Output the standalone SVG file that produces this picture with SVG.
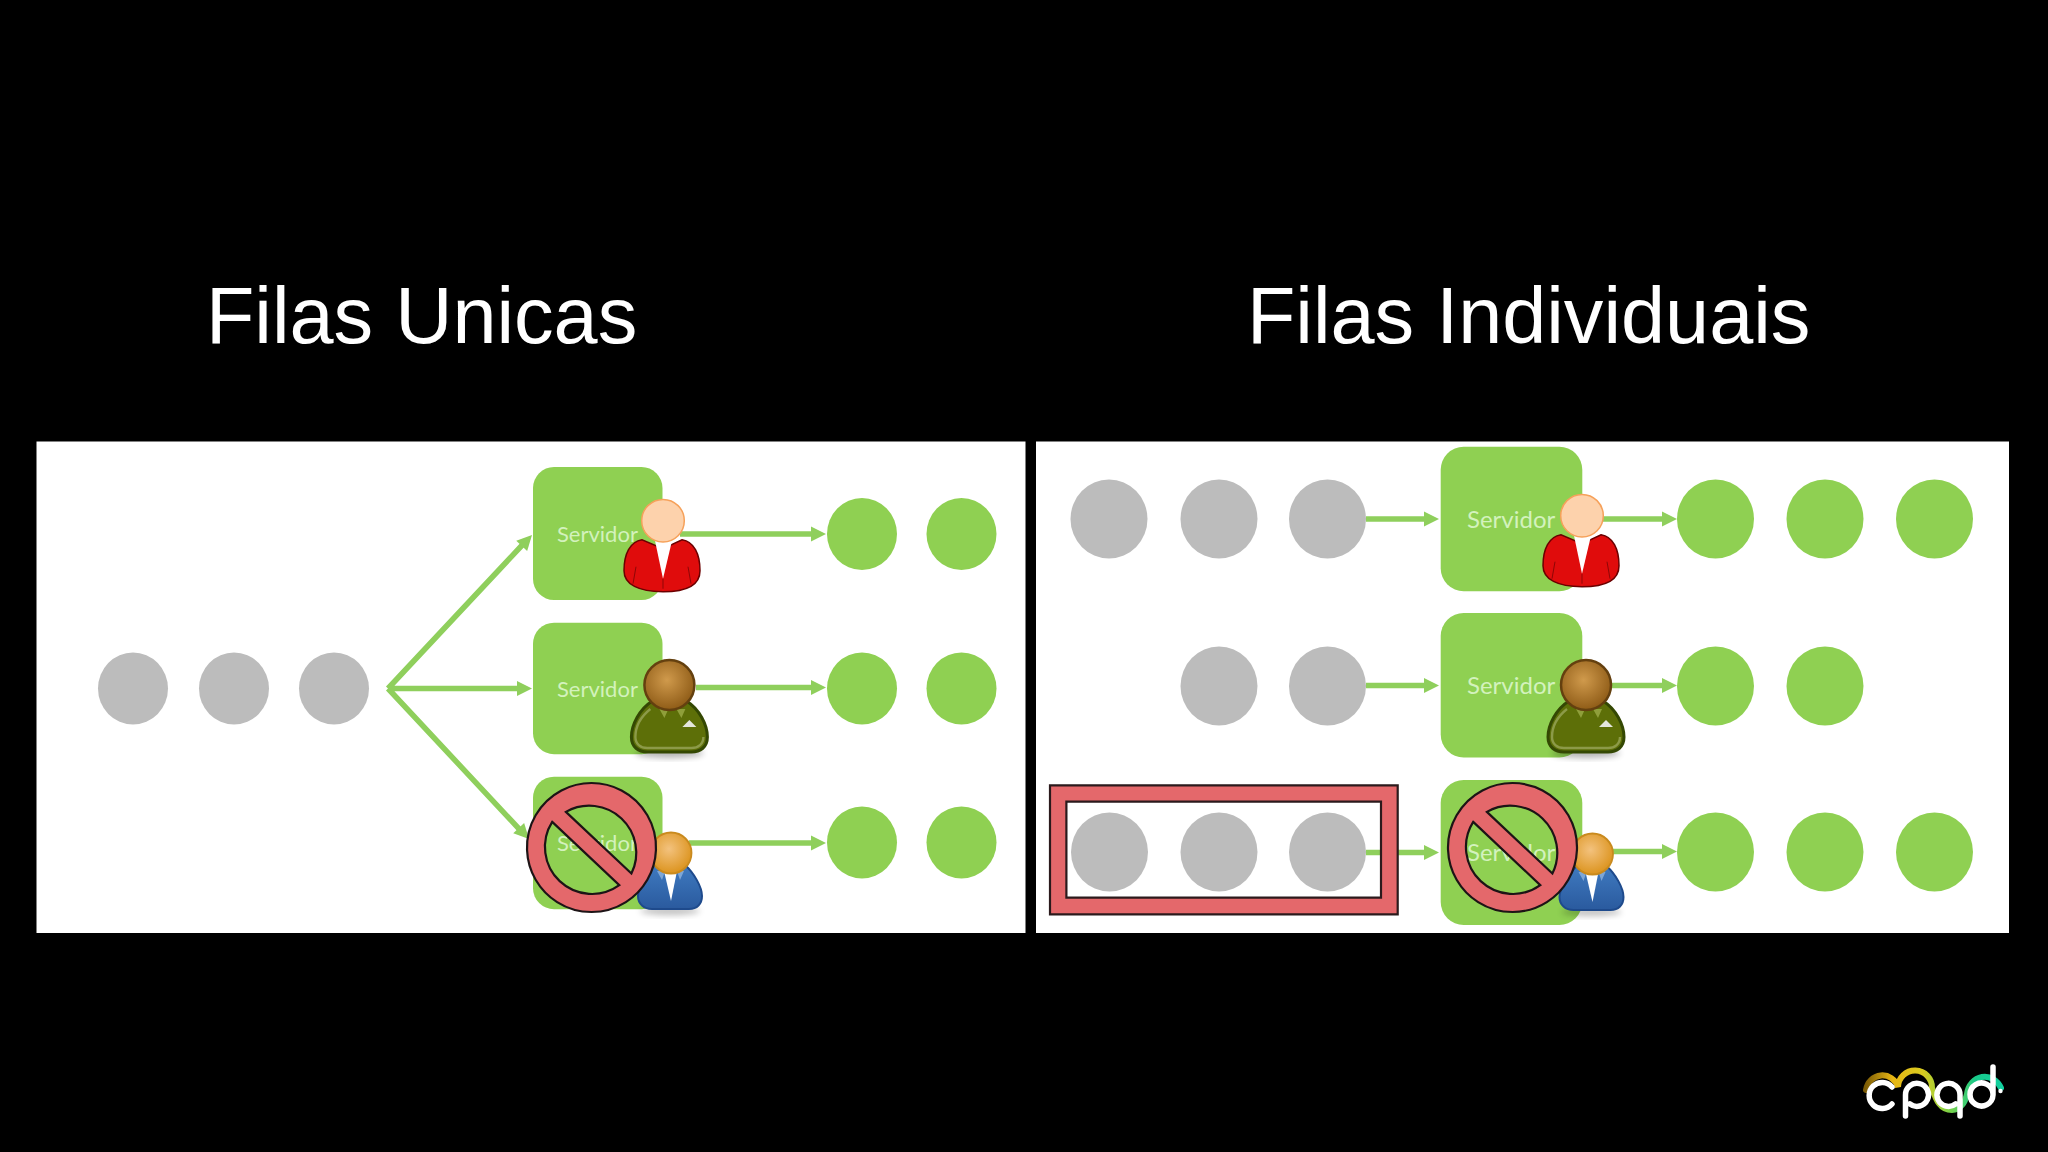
<svg xmlns="http://www.w3.org/2000/svg" xmlns:xlink="http://www.w3.org/1999/xlink" width="2048" height="1152" viewBox="0 0 2048 1152">
<style>
.title{font-family:"Liberation Sans",Arial,sans-serif;font-size:79.2px;fill:#fff}
.panel{fill:#fff}
.srv{fill:#8fd052}
.lbl{font-family:Lato,"Open Sans",sans-serif;font-size:22px;fill:#d3f2bd}
.lbl2{font-size:24px}
.gy{fill:#bcbcbc}
.gn{fill:#8fd052}
.cn{stroke:#8fcf5c;stroke-width:5.5;fill:none}
.ah{fill:#8fcf5c}
</style>
<defs>
<path id="hd" d="M0 0l-15-7.5v15z"/>
<path id="ban" fill-rule="evenodd" d="M0-64.5A64.5 64.5 0 1 1-.01-64.5ZM-25.6-35.6A47 47 0 0 1 39.9 26ZM-39.3-25.6L27.8 37.7A47 47 0 0 1-39.3-25.6Z"/>
<g id="pRed">
<path d="M-21 19C-33 21-39 33-39 50C-39 64-24 71 0 71C24 71 37 64 37 50C37 33 31 21 19 19L0 28Z" fill="#e00c0c" stroke="#6b0000" stroke-width="1.5"/>
<path d="M-8 20H9L0 58Z" fill="#fff"/>
<path d="M-27 46L-30 63M25 46L28 63M0 58V68" stroke="#8f0606" stroke-width="1" fill="none"/>
<circle r="21.3" fill="#fdd2ac" stroke="#f6a15a" stroke-width="1.5"/>
</g>
<radialGradient id="gBrown" cx=".45" cy=".4" r=".6"><stop offset="0" stop-color="#d09a4c"/><stop offset="1" stop-color="#8f5c17"/></radialGradient>
<radialGradient id="gOrange" cx=".45" cy=".4" r=".6"><stop offset="0" stop-color="#f3c27e"/><stop offset="1" stop-color="#dc941f"/></radialGradient>
<linearGradient id="gBlue" x1="0" y1="0" x2="0" y2="1"><stop offset="0" stop-color="#3f7ac0"/><stop offset="1" stop-color="#2a5a9e"/></linearGradient>
<filter id="sh" x="-20%" y="-20%" width="140%" height="160%"><feGaussianBlur stdDeviation="3"/></filter>
<g id="pGreen">
<ellipse cx="0" cy="68" rx="34" ry="5" fill="#000" opacity=".3" filter="url(#sh)"/>
<path d="M-17 16C-30 24-38 40-38 52C-38 62-31 67-22 67H22C31 67 38 62 38 52C38 40 30 24 17 16Z" fill="#5d6f08" stroke="#344803" stroke-width="3"/>
<path d="M-19 24C-29 32-34 42-34 52C-34 59-29 63-22 63H22C29 63 34 59 34 52" fill="none" stroke="#8c9a48" stroke-width="2.4"/>
<path d="M-10 24L-5 33L-1 24ZM7 24L12 33L16 24Z" fill="#8f9f3a"/>
<path d="M13 42L20 35L27 42Z" fill="#e4e6dc"/>
<circle r="25" fill="url(#gBrown)" stroke="#64400f" stroke-width="2.5"/>
</g>
<g id="pBlue">
<ellipse cx="-1" cy="58" rx="30" ry="4" fill="#000" opacity=".25" filter="url(#sh)"/>
<path d="M-16 12C-24 20-33 34-33 43C-33 51-27 56-19 56H18C26 56 31 51 31 43C31 34 23 20 14 12Z" fill="url(#gBlue)" stroke="#1e4a8c" stroke-width="2"/>
<path d="M-7 18H6L0 48Z" fill="#fff"/>
<path d="M-14 18L-9 27L-6 18ZM6 18L9 27L13 18Z" fill="#7ea6d6"/>
<circle r="20.5" fill="url(#gOrange)" stroke="#c98a1e" stroke-width="1.8"/>
</g>
<linearGradient id="lg" gradientUnits="userSpaceOnUse" x1="1865" y1="0" x2="2003" y2="0"><stop offset="0" stop-color="#7a5a05"/><stop offset=".2" stop-color="#e8b614"/><stop offset=".42" stop-color="#d8cc20"/><stop offset=".62" stop-color="#76d24a"/><stop offset=".8" stop-color="#18c98a"/><stop offset="1" stop-color="#12d0a0"/></linearGradient>
</defs>
<rect width="2048" height="1152" fill="#000"/>
<text class="title" x="206" y="342.5">Filas Unicas</text>
<text class="title" x="1247" y="342.5">Filas Individuais</text>
<rect class="panel" x="36.5" y="441.5" width="989" height="491.5"/>
<rect class="panel" x="1036" y="441.5" width="973" height="491.5"/>

<g id="connectors">
<path class="cn" d="M388 688.5L526 541M388 688.5H520M388 688.5L521 831"/>
<use href="#hd" class="ah" transform="translate(532 535) rotate(-46.6)"/>
<use href="#hd" class="ah" transform="translate(532 688.5)"/>
<use href="#hd" class="ah" transform="translate(529 839) rotate(46.6)"/>
<path class="cn" d="M680 534H815M696 687.5H815M689 843H815"/>
<use href="#hd" class="ah" transform="translate(826 534)"/>
<use href="#hd" class="ah" transform="translate(826 687.5)"/>
<use href="#hd" class="ah" transform="translate(826 843)"/>
<path class="cn" d="M1366 519H1428M1366 685.5H1428M1366 852.5H1428"/>
<use href="#hd" class="ah" transform="translate(1439 519)"/>
<use href="#hd" class="ah" transform="translate(1439 685.5)"/>
<use href="#hd" class="ah" transform="translate(1439 852.5)"/>
<path class="cn" d="M1600 519H1666M1610 685.5H1666M1610 851.5H1666"/>
<use href="#hd" class="ah" transform="translate(1677 519)"/>
<use href="#hd" class="ah" transform="translate(1677 685.5)"/>
<use href="#hd" class="ah" transform="translate(1677 851.5)"/>
</g>

<g id="q-l-1"><ellipse class="gy" cx="133" cy="688.5" rx="35" ry="36"/></g>
<g id="q-l-2"><ellipse class="gy" cx="234" cy="688.5" rx="35" ry="36"/></g>
<g id="q-l-3"><ellipse class="gy" cx="334" cy="688.5" rx="35" ry="36"/></g>

<g id="srv-l-1"><rect class="srv" x="533" y="467" width="129.5" height="133" rx="21"/><text class="lbl" x="557" y="541.5">Servidor</text><use href="#pRed" x="663" y="520.7"/></g>
<g id="srv-l-2"><rect class="srv" x="533" y="622.7" width="129.5" height="131.5" rx="21"/><text class="lbl" x="557" y="697">Servidor</text><use href="#pGreen" x="669.4" y="685"/></g>
<g id="srv-l-3"><rect class="srv" x="533" y="776.7" width="129.5" height="132.5" rx="21"/><text class="lbl" x="557" y="851">Servidor</text><use href="#pBlue" x="671" y="853"/><use href="#ban" x="591.5" y="847.5" fill="#e4686b" stroke="#1d1416" stroke-width="2.2"/></g>

<g id="out-l">
<ellipse class="gn" cx="862" cy="534" rx="35" ry="36"/><ellipse class="gn" cx="961.5" cy="534" rx="35" ry="36"/>
<ellipse class="gn" cx="862" cy="688.5" rx="35" ry="36"/><ellipse class="gn" cx="961.5" cy="688.5" rx="35" ry="36"/>
<ellipse class="gn" cx="862" cy="842.5" rx="35" ry="36"/><ellipse class="gn" cx="961.5" cy="842.5" rx="35" ry="36"/>
</g>

<g id="q-r">
<ellipse class="gy" cx="1109" cy="519" rx="38.5" ry="39.5"/><ellipse class="gy" cx="1219" cy="519" rx="38.5" ry="39.5"/><ellipse class="gy" cx="1327.5" cy="519" rx="38.5" ry="39.5"/>
<ellipse class="gy" cx="1219" cy="686" rx="38.5" ry="39.5"/><ellipse class="gy" cx="1327.5" cy="686" rx="38.5" ry="39.5"/>
<ellipse class="gy" cx="1109.5" cy="852" rx="38.5" ry="39.5"/><ellipse class="gy" cx="1219" cy="852" rx="38.5" ry="39.5"/><ellipse class="gy" cx="1327.5" cy="852" rx="38.5" ry="39.5"/>
</g>

<g id="srv-r-1"><rect class="srv" x="1440.7" y="446.7" width="141.6" height="144.5" rx="23"/><text class="lbl lbl2" x="1467" y="527.5">Servidor</text><use href="#pRed" x="1582" y="515.7"/></g>
<g id="srv-r-2"><rect class="srv" x="1440.7" y="613" width="141.6" height="144.5" rx="23"/><text class="lbl lbl2" x="1467" y="693.5">Servidor</text><use href="#pGreen" x="1586" y="685"/></g>
<g id="srv-r-3"><rect class="srv" x="1440.7" y="780" width="141.6" height="145" rx="23"/><text class="lbl lbl2" x="1467" y="860.5">Servidor</text><use href="#pBlue" x="1592.5" y="854"/><use href="#ban" x="1512.5" y="847.5" fill="#e4686b" stroke="#1d1416" stroke-width="2.2"/></g>

<g id="out-r">
<ellipse class="gn" cx="1715.5" cy="519" rx="38.5" ry="39.5"/><ellipse class="gn" cx="1825" cy="519" rx="38.5" ry="39.5"/><ellipse class="gn" cx="1934.5" cy="519" rx="38.5" ry="39.5"/>
<ellipse class="gn" cx="1715.5" cy="686" rx="38.5" ry="39.5"/><ellipse class="gn" cx="1825" cy="686" rx="38.5" ry="39.5"/>
<ellipse class="gn" cx="1715.5" cy="852" rx="38.5" ry="39.5"/><ellipse class="gn" cx="1825" cy="852" rx="38.5" ry="39.5"/><ellipse class="gn" cx="1934.5" cy="852" rx="38.5" ry="39.5"/>
</g>

<g id="mark"><path fill-rule="evenodd" fill="#e4686b" stroke="#2b1a1c" stroke-width="2.2" d="M1050 785.3H1397.7V914.3H1050ZM1066.4 801.7V897.7H1381V801.7Z"/></g>

<g id="logo" fill="none" stroke-linecap="round">
<path d="M1866 1090A16.5 17 0 0 1 1898 1087A17 17 0 0 1 1932 1088C1936 1100 1940 1110 1952 1110C1960 1110 1965 1103 1967 1094A18 20 0 0 1 2001 1088" stroke="url(#lg)" stroke-width="6"/>
<path d="M1892 1087A13 13 0 1 0 1892 1104M1905.5 1116V1095A11.5 11.5 0 1 1 1910 1104M1960 1116V1095A11.5 11.5 0 1 0 1955.5 1104M1993 1067V1095A11.5 11.5 0 1 1 1993 1094" stroke="#fff" stroke-width="5.5"/>
<circle cx="2000.5" cy="1091" r="2.2" fill="#fff"/>
</g>
</svg>
